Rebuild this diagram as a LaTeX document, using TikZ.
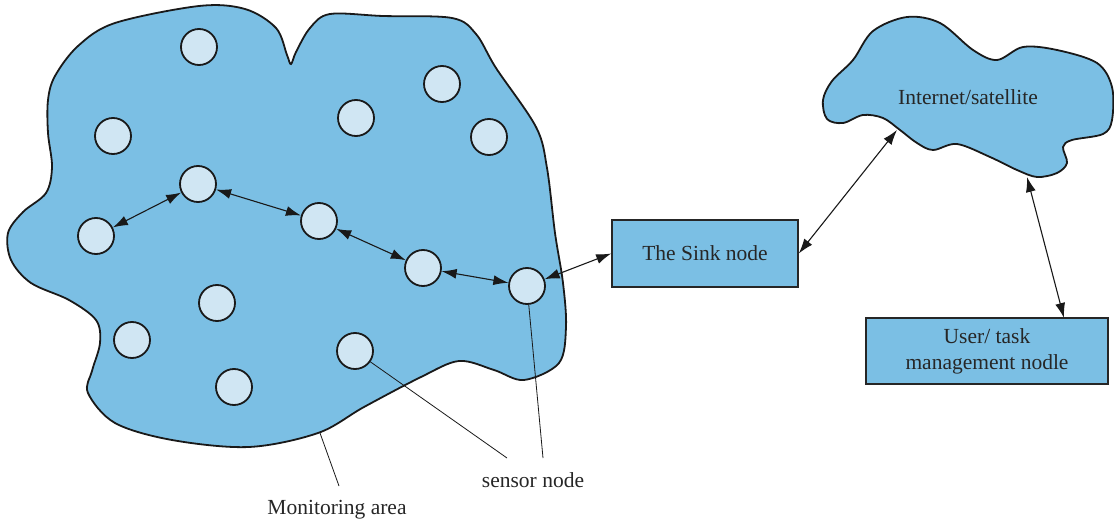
\documentclass[tikz,border=0pt]{standalone}
\usepackage{fontspec}
\setmainfont{Liberation Serif}
\usetikzlibrary{arrows.meta}
\definecolor{areablue}{RGB}{123,191,228}
\definecolor{nodeblue}{RGB}{208,230,243}
\begin{document}
\begin{tikzpicture}[x=1pt,y=-1pt,
  outline/.style={draw=black!90,line width=1.8pt,fill=areablue},
  sensor/.style={circle,draw=black!90,line width=1.8pt,fill=nodeblue,minimum size=36pt,inner sep=0pt},
  box/.style={draw=black!85,line width=1.6pt,fill=areablue,inner sep=0pt},
  link/.style={{Latex[length=15pt,width=10pt]}-{Latex[length=15pt,width=10pt]},line width=1.1pt,black!90},
  lead/.style={line width=0.8pt,black!90},
  lbl/.style={font=\fontsize{21.5}{25}\selectfont,text=black!85,inner sep=0pt}]
\useasboundingbox (0,0) rectangle (1114,524);
% monitoring area
\draw[outline] plot[smooth cycle,tension=0.55] coordinates {
 (48,100) (55,76) (78,46) (115,23) (199,6) (245,9) (276,28) (287,55) (291,64) (296,52) (310,28) (330,14)
 (383,16) (452,18) (476,34) (496,68) (536,127) (547,168) (555,233) (563,283) (566,327)
 (559,363) (524,380) (494,370) (459,361) (421,377) (364,407) (318,433) (249,447) (172,440)
 (115,423) (88,393) (92,371) (100,343) (96,320) (69,300) (31,283) (11,260) (8,233) (23,212)
 (46,193) (52,167) (48,133)};
% cloud
\draw[outline] plot[smooth cycle,tension=0.55] coordinates {
 (823,100) (832,81) (853,60) (873,31) (907,17) (940,23) (973,50) (997,60) (1023,47) (1057,50)
 (1097,63) (1112,87) (1112,120) (1103,134) (1072,140) (1063,147) (1067,163) (1057,173)
 (1037,177) (1017,170) (990,157) (957,144) (933,150) (917,143) (900,130) (883,118)
 (863,115) (843,123) (827,119)};
\node[lbl] (inet) at (968,97) {Internet/satellite};
% sensors
\node[sensor] (n1) at (199,47) {};
\node[sensor] (n2) at (442,84) {};
\node[sensor] (n3) at (356,118) {};
\node[sensor] (n4) at (489,137) {};
\node[sensor] (n5) at (113,136) {};
\node[sensor] (n6) at (198,184) {};
\node[sensor] (n7) at (319,221) {};
\node[sensor] (n8) at (96,236) {};
\node[sensor] (n9) at (423,268) {};
\node[sensor] (n10) at (527,286) {};
\node[sensor] (n11) at (217,303) {};
\node[sensor] (n12) at (132,340) {};
\node[sensor] (n13) at (355,351) {};
\node[sensor] (n14) at (234,387) {};
% boxes
\node[box,minimum width=186pt,minimum height=67pt] (sink) at (705,253.5) {};
\node[lbl] at (sink) {The Sink node};
\node[box,minimum width=242pt,minimum height=66pt] (user) at (987,351) {};
\node[lbl,align=center,font=\fontsize{21.5}{26}\selectfont] at (user) {User/ task\\management nodle};
% connectors
\draw[link] (n8) -- (n6);
\draw[link] (n6) -- (n7);
\draw[link] (n7) -- (n9);
\draw[link] (n9) -- (n10);
\draw[link] (n10) -- (sink.west);
\coordinate (cA) at (897,130);
\coordinate (cB) at (1027,177);
\coordinate (uT) at (1064,318);
\draw[link] (sink.east) -- (cA);
\draw[link] (cB) -- (uT);
% labels
\node[lbl] (mon) at (337,510) {Monitoring area};
\node[lbl] (sen) at (533,480) {sensor node};
\coordinate (mA) at (320,433);
\coordinate (mB) at (339,486);
\draw[lead] (mA) -- (mB);
\coordinate (sA) at (507,458);
\coordinate (sB) at (543,458);
\draw[lead] (n13) -- (sA);
\draw[lead] (n10) -- (sB);
\end{tikzpicture}
\end{document}
